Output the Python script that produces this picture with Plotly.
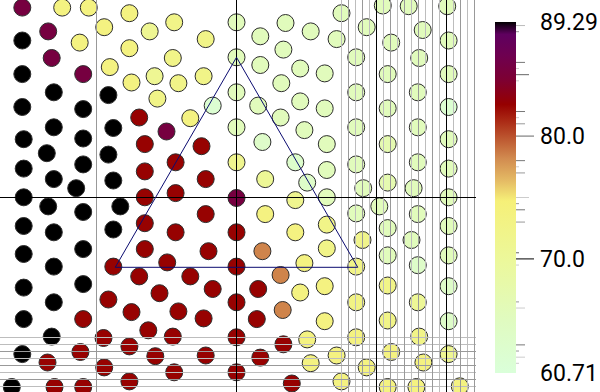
import plotly.graph_objects as go

# ---------------- data ----------------
x_vals = [
    # left block
    -3.06, -2.49, -2.11, -1.53, -1.89, -1.24, -2.69, -3.06, -2.24, -1.53,
    -2.64, -1.81, -1.17, -3.06, -2.19, -1.50, -2.61, -1.83, -1.13, -3.06,
    -2.19, -1.39, -2.61, -1.76, -3.04, -2.19, -1.31, -2.71, -1.83, -3.04,
    -2.19, -1.31, -2.61, -1.76, -2.29, -3.04, -1.31, -2.69, -1.66, -2.19,
    -3.04, -1.76, -1.31, -2.61, -2.19, -3.04, -1.31, -2.61, -1.76, -1.39,
    -3.04, -2.19, -1.10, -1.83, -2.61, -1.50, -3.04, -2.19, -1.26, -2.64,
    -1.90, -1.53, -3.06, -2.23, -1.16, -2.70, -1.89, -1.53, -3.21, -2.60,
    -2.19,
    # middle block
    -0.89, 0.00, 0.70, 1.06, -0.44, 0.34, -0.91, 0.00, 0.67, 0.34,
    0.91, -0.83, -0.47, 0.00, 0.64, -0.34, 0.31, 0.91, -0.66, -1.00,
    0.00, 0.63, 0.97, -0.50, 0.37, -0.87, 0.00, 0.84, -0.44, 0.41,
    1.01, -0.87, 0.00, 0.84, -0.44, 0.41, -0.87, 0.00, 0.84, -0.40,
    0.37, -0.99, 0.00, 0.97, -0.66, 0.63, -0.34, 0.31, 0.91, 0.00,
    -0.83, -0.47, 0.29, 0.66, -0.91, 0.00, 0.67, 1.01, -0.44, 0.34,
    1.06, -0.89, 0.00, 0.79,
    # right block
    1.50, 2.09, 2.46, 3.01, 1.86, 2.66, 1.43, 2.21, 3.03, 1.71,
    2.61, 1.26, 2.16, 3.03, 1.71, 2.59, 1.26, 2.16, 3.03, 1.71,
    2.59, 1.29, 2.16, 3.03, 1.71, 2.59, 1.29, 3.03, 1.81, 2.16,
    2.53, 1.29, 3.03, 2.04, 1.71, 2.59, 1.29, 2.16, 3.03, 1.80,
    2.50, 1.29, 2.16, 3.03, 1.71, 2.59, 1.26, 2.16, 3.03, 1.71,
    2.59, 1.26, 2.16, 3.03, 1.71, 2.61, 1.43, 2.21, 3.03, 1.86,
    2.67, 1.50, 2.16, 2.57, 3.19,
]
y_vals = [
    # left block
    2.71, 2.71, 2.71, 2.63, 2.43, 2.37, 2.37, 2.24, 2.21, 2.13,
    1.99, 1.86, 1.73, 1.76, 1.76, 1.64, 1.50, 1.46, 1.41, 1.29,
    1.26, 1.14, 1.00, 0.99, 0.83, 0.84, 0.76, 0.63, 0.61, 0.41,
    0.47, 0.37, 0.26, 0.24, 0.13, 0.00, 0.00, -0.13, -0.13, -0.21,
    -0.41, -0.46, -0.37, -0.50, -0.74, -0.81, -0.74, -0.99, -0.99, -1.13,
    -1.29, -1.24, -1.37, -1.46, -1.50, -1.64, -1.74, -1.74, -1.90, -1.99,
    -2.01, -2.13, -2.24, -2.21, -2.27, -2.36, -2.43, -2.63, -2.71, -2.71,
    -2.71,
    # middle block
    2.50, 2.50, 2.49, 2.37, 2.26, 2.30, 1.99, 2.00, 2.11, 1.89,
    1.84, 1.63, 1.73, 1.50, 1.63, 1.31, 1.31, 1.37, 1.13, 0.94,
    1.00, 1.14, 0.96, 0.73, 0.79, 0.50, 0.50, 0.50, 0.26, 0.26,
    0.21, 0.06, -0.01, -0.04, -0.24, -0.24, -0.50, -0.50, -0.50, -0.77,
    -0.77, -0.93, -0.99, -0.94, -1.13, -1.11, -1.31, -1.31, -1.36, -1.50,
    -1.63, -1.73, -1.74, -1.61, -1.99, -2.00, -2.10, -2.03, -2.26, -2.29,
    -2.37, -2.50, -2.50, -2.66,
    # right block
    2.63, 2.74, 2.73, 2.73, 2.43, 2.39, 2.26, 2.21, 2.24, 2.00,
    1.99, 1.77, 1.76, 1.76, 1.50, 1.50, 1.27, 1.27, 1.29, 1.00,
    1.00, 0.76, 0.76, 0.83, 0.47, 0.50, 0.39, 0.41, 0.13, 0.21,
    0.13, 0.00, 0.00, -0.13, -0.23, -0.24, -0.39, -0.44, -0.41, -0.61,
    -0.61, -0.73, -0.83, -0.83, -0.99, -0.97, -1.27, -1.26, -1.27, -1.50,
    -1.50, -1.77, -1.76, -1.77, -2.00, -1.99, -2.26, -2.21, -2.24, -2.43,
    -2.36, -2.63, -2.71, -2.71, -2.70,
]
z_vals = [
    # left block
    85.5, 73.5, 73.5, 73.5, 73.5, 71.0, 85.5, 89.29, 73.5, 73.5,
    85.5, 73.5, 71.0, 89.29, 85.5, 73.5, 89.29, 89.29, 72.5, 89.29,
    89.29, 82.5, 89.29, 89.29, 89.29, 89.29, 82.5, 89.29, 89.29, 89.29,
    89.29, 82.5, 89.29, 89.29, 89.29, 89.29, 82.5, 89.29, 89.29, 89.29,
    89.29, 89.29, 82.5, 89.29, 89.29, 89.29, 82.5, 89.29, 82.5, 82.5,
    89.29, 89.29, 82.5, 82.5, 89.29, 82.5, 89.29, 82.5, 82.5, 89.29,
    82.5, 82.5, 89.29, 82.5, 82.5, 82.5, 82.5, 82.5, 89.29, 82.5,
    82.5,
    # middle block
    72.5, 65.5, 65.5, 65.5, 72.5, 65.5, 72.5, 65.5, 65.5, 65.5,
    65.5, 72.5, 72.5, 65.5, 65.5, 62.0, 65.5, 65.5, 73.5, 85.5,
    65.5, 65.5, 65.5, 82.5, 63.5, 82.5, 71.5, 63.0, 82.5, 70.5,
    63.5, 82.5, 85.5, 71.5, 82.5, 73.5, 82.5, 82.5, 73.5, 82.5,
    78.4, 82.5, 82.5, 73.5, 82.5, 78.4, 82.5, 82.5, 73.5, 82.5,
    82.5, 82.5, 82.5, 78.4, 82.5, 82.5, 82.5, 73.5, 82.5, 82.5,
    73.5, 82.5, 82.5, 82.5,
    # right block
    65.5, 65.5, 65.5, 65.5, 65.5, 65.5, 65.5, 65.5, 65.5, 65.5,
    65.5, 65.5, 65.5, 65.5, 65.5, 65.5, 65.5, 65.5, 62.0, 65.5,
    65.5, 65.5, 67.0, 65.5, 65.5, 65.5, 65.5, 65.5, 65.5, 67.0,
    65.5, 65.5, 65.5, 65.5, 65.5, 65.5, 72.5, 65.5, 65.5, 72.0,
    65.5, 72.5, 65.5, 65.5, 72.5, 63.5, 73.5, 72.5, 63.5, 73.0,
    70.5, 73.5, 72.5, 63.5, 73.5, 72.5, 73.5, 73.5, 71.0, 73.5,
    73.5, 73.5, 73.5, 73.5, 73.5,
]

c_min, c_max = 60.71, 89.29
cb_tickvals = [60.71, 70.0, 80.0, 89.29]
cb_ticktext = ["60.71", "70.0", "80.0", "89.29"]

# extra small tick marks drawn along the colour bar
cb_mark_vals = [89.0, 88.5, 86.0, 85.5, 85.0, 84.5, 82.0, 81.5, 81.0, 80.0,
                78.0, 77.5, 77.0, 75.0, 74.5, 74.0, 73.0, 70.5, 70.0, 69.5,
                66.5, 66.0, 63.0, 62.5, 62.0, 61.5]

# guide lines
x_lines_black = [2.0, 3.0]
x_lines_dark = [-2.0, 1.6, 1.8, 2.2, 2.4, 2.6, 2.8, 3.2, 3.4]
x_lines_light = [1.5, 1.7, 1.9, 2.1, 2.3, 2.5, 2.7, 2.9, 3.1, 3.3]
y_lines_dark = [-2.2, -2.4, -2.6]
y_lines_light = [-2.0, -2.1, -2.3, -2.5, -2.7]

# triangle outline
tri_x = [0.0, -1.732, 1.732]
tri_y = [2.0, -1.0, -1.0]

# ---------------- styling / geometry ----------------
W, H = 600, 392
PLOT_W, PLOT_H = 476, 392
UNIT = 70.0
X0_PX, Y0_PX = 236.5, 197.3
x_range = [-X0_PX / UNIT, (PLOT_W - X0_PX) / UNIT]
y_range = [-(PLOT_H - Y0_PX) / UNIT, Y0_PX / UNIT]

CB_LEFT, CB_THICK, CB_TOP, CB_BOTTOM = 495, 21, 22, 373

cb_mark_len = [9, 3, 9, 3, 13, 3, 9, 3, 9, 18,
               9, 3, 9, 13, 3, 9, 9, 3, 18, 3,
               3, 9, 9, 3, 9, 3]
cb_mark_col = ['#bbbbbb', '#999999', '#777777', '#cccccc', '#666666', '#cccccc',
               '#777777', '#cccccc', '#999999', '#666666', '#777777', '#cccccc',
               '#999999', '#cccccc', '#999999', '#777777', '#999999', '#666666',
               '#000000', '#cccccc', '#999999', '#cccccc', '#777777', '#999999',
               '#cccccc', '#cccccc']

colorscale = [
    [0.00, 'rgb(218,255,218)'],
    [0.15, 'rgb(224,251,192)'],
    [0.32, 'rgb(236,248,155)'],
    [0.49, 'rgb(246,240,120)'],
    [0.55, 'rgb(228,185,100)'],
    [0.61, 'rgb(210,140,80)'],
    [0.665, 'rgb(190,90,50)'],
    [0.72, 'rgb(170,40,20)'],
    [0.765, 'rgb(150,0,0)'],
    [0.835, 'rgb(125,0,50)'],
    [0.905, 'rgb(110,0,80)'],
    [0.965, 'rgb(95,0,95)'],
    [0.99, 'rgb(30,0,30)'],
    [1.00, 'rgb(0,0,0)'],
]

fig = go.Figure()

fig.add_trace(go.Scatter(
    x=x_vals, y=y_vals, mode='markers',
    marker=dict(
        size=17, color=z_vals, colorscale=colorscale, cmin=c_min, cmax=c_max,
        line=dict(color='rgb(45,45,45)', width=1),
        showscale=True,
        colorbar=dict(
            thickness=CB_THICK, thicknessmode='pixels',
            len=CB_BOTTOM - CB_TOP, lenmode='pixels',
            x=CB_LEFT / PLOT_W, xanchor='left', xpad=0,
            y=1 - (CB_TOP + CB_BOTTOM) / 2 / PLOT_H, yanchor='middle', ypad=0,
            outlinewidth=0,
            tickmode='array', tickvals=cb_tickvals, ticktext=cb_ticktext,
            ticks='outside', ticklen=20, tickcolor='rgba(0,0,0,0)',
            tickfont=dict(family='Roboto', size=23, color='#000000'),
        ),
    ),
    showlegend=False, hoverinfo='skip',
))

# empty traces so the guide-line subplots exist (drawn above the markers)
fig.add_trace(go.Scatter(x=[], y=[], xaxis='x2', yaxis='y2', showlegend=False, hoverinfo='skip'))
fig.add_trace(go.Scatter(x=[], y=[], xaxis='x3', yaxis='y3', showlegend=False, hoverinfo='skip'))

hidden = dict(showticklabels=False, ticks='', showline=False)

fig.update_layout(
    width=W, height=H,
    margin=dict(l=0, r=W - PLOT_W, t=0, b=0, pad=0),
    paper_bgcolor='white', plot_bgcolor='rgba(0,0,0,0)',
    showlegend=False,
    xaxis=dict(range=x_range, domain=[0, 1], showgrid=False, zeroline=False, **hidden),
    yaxis=dict(range=y_range, domain=[0, 1], showgrid=False, zeroline=False, **hidden),
    xaxis2=dict(range=x_range, domain=[0, 1], anchor='y2',
                tickmode='array', tickvals=x_lines_dark, showgrid=True,
                gridcolor='#999999', gridwidth=1,
                minor=dict(tickmode='array', tickvals=x_lines_light, showgrid=True,
                           gridcolor='#bdbdbd', gridwidth=1),
                zeroline=True, zerolinecolor='#000000', zerolinewidth=1, **hidden),
    yaxis2=dict(range=y_range, domain=[0, 1], anchor='x2',
                tickmode='array', tickvals=y_lines_dark, showgrid=True,
                gridcolor='#999999', gridwidth=1,
                minor=dict(tickmode='array', tickvals=y_lines_light, showgrid=True,
                           gridcolor='#bdbdbd', gridwidth=1),
                zeroline=True, zerolinecolor='#000000', zerolinewidth=1, **hidden),
    xaxis3=dict(range=x_range, domain=[0, 1], anchor='y3',
                tickmode='array', tickvals=x_lines_black, showgrid=True,
                gridcolor='#000000', gridwidth=1, zeroline=False, **hidden),
    yaxis3=dict(range=y_range, domain=[0, 1], anchor='x3',
                showgrid=False, zeroline=False, **hidden),
)

# triangle outline
path = 'M {},{} '.format(tri_x[0], tri_y[0]) + ' '.join(
    'L {},{}'.format(a, b) for a, b in zip(tri_x[1:], tri_y[1:])) + ' Z'
fig.add_shape(type='path', path=path, xref='x', yref='y',
              line=dict(color='#0b0b70', width=1), layer='above')

# small tick marks on the colour bar
bar_top_p = 1 - CB_TOP / PLOT_H
bar_bot_p = 1 - CB_BOTTOM / PLOT_H
bar_right_p = (CB_LEFT + CB_THICK) / PLOT_W
for v, ln, col in zip(cb_mark_vals, cb_mark_len, cb_mark_col):
    yp = bar_bot_p + (v - c_min) / (c_max - c_min) * (bar_top_p - bar_bot_p)
    fig.add_shape(type='line', xref='paper', yref='paper',
                  x0=bar_right_p, x1=bar_right_p + ln / PLOT_W, y0=yp, y1=yp,
                  line=dict(color=col, width=1))

fig.write_html('out.html', config={'displayModeBar': False},
               post_script="document.body.style.margin='0px';")
